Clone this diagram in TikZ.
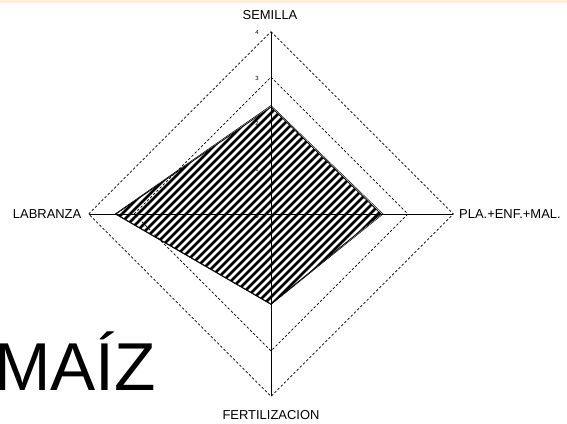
\documentclass[tikz,border=0pt]{standalone}
\usepackage{fontspec}
\setmainfont{Liberation Sans}
\definecolor{topband}{RGB}{252,240,220}
\begin{document}
\begin{tikzpicture}[x=1bp,y=-1bp,
  axis/.style={line width=0.9bp,black},
  ring/.style={line width=0.7bp,black,dash pattern=on 2.5bp off 2bp},
  hatchline/.style={line width=2.6bp,black},
  outline/.style={line width=0.8bp,black,line join=miter},
  axlabel/.style={font=\fontsize{13}{15}\selectfont,inner sep=0pt},
  ticklabel/.style={font=\fontsize{6}{7}\selectfont,inner sep=0pt,anchor=east}]
\useasboundingbox (0,0) rectangle (567,423);
\fill[white] (0,0) rectangle (567,423);
\fill[topband] (0,0) rectangle (567,2.5);
% centre and axis ends
\coordinate (O) at (271,214);
\coordinate (T4) at (271,31.6);
\coordinate (B4) at (271,396.4);
\coordinate (L4) at (88.6,214);
\coordinate (R4) at (453.4,214);
\coordinate (T3) at (271,77.2);
\coordinate (B3) at (271,350.8);
\coordinate (L3) at (134.2,214);
\coordinate (R3) at (407.8,214);
% data polygon
\coordinate (PT) at (271,107);
\coordinate (PR) at (381,214);
\coordinate (PB) at (271,304);
\coordinate (PL) at (116,214);
\coordinate (QT) at (271,105.5);
\coordinate (QR) at (383,214);
\coordinate (QB) at (271,304.5);
\coordinate (QL) at (115,214);
% hatched area
\begin{scope}
  \clip (PT) -- (PR) -- (PB) -- (PL) -- cycle;
  \foreach \c in {0,8,...,1000} \draw[hatchline] (0,\c) -- (567,\c-567);
\end{scope}
\draw[outline] (PT) -- (PR) -- (PB) -- (PL) -- cycle;
\draw[outline,line width=0.5bp] (QT) -- (QR) -- (QB) -- (QL) -- cycle;
% rings
\draw[ring] (T4) -- (R4) -- (B4) -- (L4) -- cycle;
\draw[ring] (T3) -- (R3) -- (B3) -- (L3) -- cycle;
% axes
\draw[axis] (O) -- (T4);
\draw[axis] (O) -- (B4);
\draw[axis] (O) -- (L4);
\draw[axis] (O) -- (R4);
% tick labels
\node[ticklabel] (k0) at (259,216) {0};
\node[ticklabel] (k1) at (259,169.4) {1};
\node[ticklabel] (k2) at (259,123.8) {2};
\node[ticklabel] (k3) at (259,78.2) {3};
\node[ticklabel] (k4) at (259,32.6) {4};
% axis labels
\node[axlabel] (semilla) at (270,15.5) {SEMILLA};
\node[axlabel,anchor=east] (labranza) at (81.5,214) {LABRANZA};
\node[axlabel,anchor=west] (pla) at (459,214) {PLA.+ENF.+MAL.};
\node[axlabel] (fert) at (271,415.5) {FERTILIZACION};
% title
\node[anchor=base west,inner sep=0pt,font=\fontsize{68}{68}\selectfont] (title) at (-6,390) {MAÍZ};
\end{tikzpicture}
\end{document}
